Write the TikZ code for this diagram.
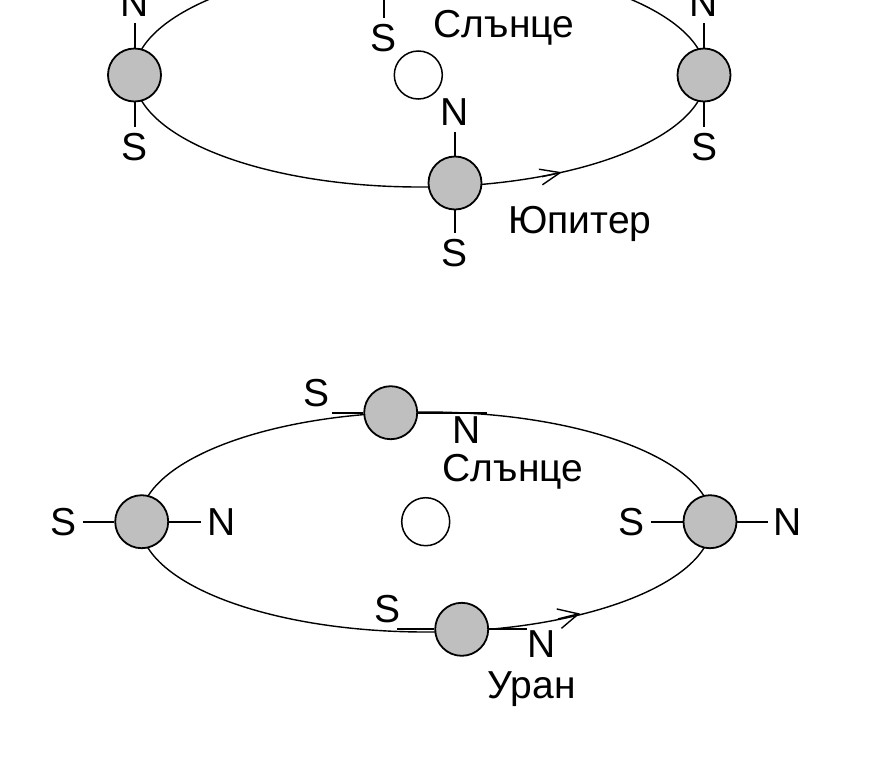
\documentclass[tikz,border=0pt]{standalone}
\usepackage{fontspec}
\setmainfont{Liberation Sans}
\usetikzlibrary{arrows.meta}

\begin{document}
\begin{tikzpicture}[x=1pt,y=-1pt,
  planet/.style={circle,draw,line width=1.8pt,fill=black!25,
    minimum size=53pt,inner sep=0pt},
  sun/.style={circle,draw,line width=1.5pt,fill=white,
    minimum size=48pt,inner sep=0pt},
  pole/.style={inner sep=6pt,font=\fontsize{39}{42}\selectfont},
  title/.style={anchor=base,inner sep=0pt,font=\fontsize{39}{42}\selectfont},
  orbit/.style={line width=1.4pt},
  axis/.style={line width=2pt}]

  \useasboundingbox (0,0) rectangle (881,769);

  \newcommand\RX{286};
  \newcommand\RY{112};

  %% upper orbit: Jupiter
  \draw[orbit] (420,75) ellipse [x radius=\RX, y radius=\RY];
  \coordinate (ja) at (542,176.7);
  \coordinate (jb) at (562,172.2);
  \draw[orbit,-{Straight Barb[length=20pt,width=16pt]}] (ja) -- (jb);

  \node[sun] (sunA) at (418.3,75) {};
  \node[planet] (j1) at (134.5,75) {};
  \node[planet] (j2) at (384,-36) {};
  \node[planet] (j3) at (704,75) {};
  \node[planet] (j4) at (455,183) {};

  \node[pole] (j1n) at (134.5,3.5) {N};
  \node[pole] (j1s) at (134.5,147) {S};
  \node[pole] (j2s) at (384,38) {S};
  \node[pole] (j3n) at (704,3.5) {N};
  \node[pole] (j3s) at (704,147) {S};
  \node[pole] (j4n) at (455,112) {N};
  \node[pole] (j4s) at (455,253) {S};

  \draw[axis] (j1.north) -- (j1n.south);
  \draw[axis] (j1.south) -- (j1s.north);
  \draw[axis] (j2.south) -- (j2s.north);
  \draw[axis] (j3.north) -- (j3n.south);
  \draw[axis] (j3.south) -- (j3s.north);
  \draw[axis] (j4.north) -- (j4n.south);
  \draw[axis] (j4.south) -- (j4s.north);

  \node[title] (sunAt) at (504,37.3) {Слънце};
  \node[title] (jname) at (580,233.5) {Юпитер};

  %% lower orbit: Uranus
  \renewcommand\RY{110};
  \draw[orbit] (426,522) ellipse [x radius=\RX, y radius=\RY];
  \coordinate (ua) at (558,618.9);
  \coordinate (ub) at (580,613.5);
  \draw[orbit,-{Straight Barb[length=20pt,width=20pt]}] (ua) -- (ub);

  \node[sun] (sunB) at (425.7,521.7) {};
  \node[planet] (u1) at (141.7,521.7) {};
  \node[planet] (u2) at (390.7,412.7) {};
  \node[planet] (u3) at (710,521.7) {};
  \node[planet] (u4) at (461.7,629.3) {};

  \node[pole] (u1s) at (63.3,521.7) {S};
  \node[pole] (u1n) at (221.7,521.7) {N};
  \node[pole] (u2s) at (316.7,393) {S};
  \node[pole] (u2n) at (466.7,430) {N};
  \node[pole] (u3s) at (631.7,521.7) {S};
  \node[pole] (u3n) at (788,521.7) {N};
  \node[pole] (u4s) at (388,609) {S};
  \node[pole] (u4n) at (541.7,644) {N};

  \coordinate (u2l) at (332,412.7);
  \coordinate (u2r) at (487,412.7);
  \coordinate (u4l) at (397,629.3);
  \coordinate (u4r) at (527,629.3);

  \draw[axis] (u1s.east) -- (u1.west);
  \draw[axis] (u1.east) -- (u1n.west);
  \draw[axis] (u3s.east) -- (u3.west);
  \draw[axis] (u3.east) -- (u3n.west);
  \draw[axis] (u2l) -- (u2.west);
  \draw[axis] (u2.east) -- (u2r);
  \draw[axis] (u4l) -- (u4.west);
  \draw[axis] (u4.east) -- (u4r);

  \node[title] (sunBt) at (513,481.7) {Слънце};
  \node[title] (uname) at (531.7,698) {Уран};

\end{tikzpicture}
\end{document}
